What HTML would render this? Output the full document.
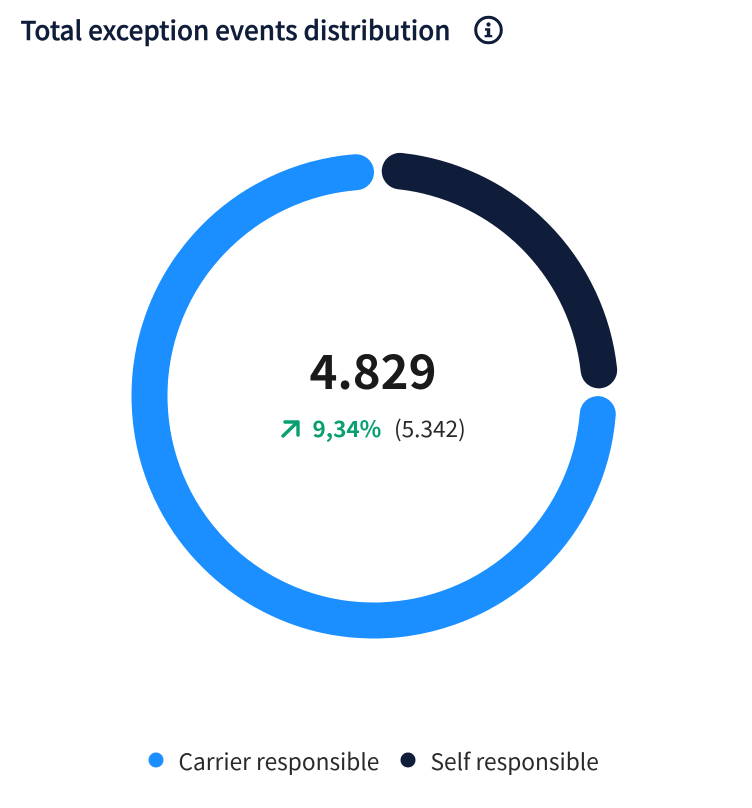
<!DOCTYPE html>
<html lang="en">
<head>
<meta charset="utf-8">
<title>Total exception events distribution</title>
<style>
  html, body { margin: 0; padding: 0; background: #fff; }
  body { width: 752px; height: 808px; overflow: hidden; }
  svg { display: block; }
  text { font-family: "Noto Sans CJK JP", "Liberation Sans", sans-serif; }
</style>
</head>
<body>
<svg id="chart" width="752" height="808" viewBox="0 0 752 808">
  <text x="20.500" y="40" font-size="26.080" font-weight="500" fill="#0f1d3a" stroke="#0f1d3a" stroke-width="0.400">Total exception events distribution</text>
  <g>
    <circle cx="488.500" cy="30" r="12.800" fill="none" stroke="#0f1d3a" stroke-width="3"></circle>
    <circle cx="488.500" cy="24.500" r="2.100" fill="#0f1d3a"></circle>
    <path d="M485 28.300h5.200v6.700h2v2.300h-7.600v-2.300h2.200v-4.400h-1.800z" fill="#0f1d3a"></path>
  </g>
  <g id="ring"></g>
  <text x="373" y="389" font-size="47.300" font-weight="700" fill="#1a1a1a" text-anchor="middle">4.829</text>
  <g fill="none" stroke="#0a9f72" stroke-width="3.400" stroke-linecap="round" stroke-linejoin="round">
    <path d="M283 436L297.500 422"></path>
    <path d="M285 422H298V435"></path>
  </g>
  <text x="312.500" y="437" font-size="22.500" font-weight="700" fill="#0a9f72">9,34%</text>
  <text x="394" y="437" font-size="22.600" font-weight="400" fill="#2a2a2a">(5.342)</text>
  <g id="legend"></g>
</svg>
<script>
const categories = ['Self responsible', 'Carrier responsible'];
const seriesValues = [1180, 3649];
const seriesColors = ['#0f1d3a', '#1b8fff'];
const legendOrder = ['Carrier responsible', 'Self responsible'];

const SVG_NS = 'http://www.w3.org/2000/svg';
const cx = 374, cy = 396, radius = 224.5, ringWidth = 36;
const startAngle = 1.03, gapAngle = 11.25;
const activeCategory = 'Self responsible';
const activeOffset = 2.1, activeRadius = 224.75, activeWidth = 36.5, activeGap = 10.46;
const legendDotX = { 'Carrier responsible': 156, 'Self responsible': 408 };
const legendY = 761;

function toPoint(deg, ox, oy, r) {
  const a = deg * Math.PI / 180;
  return [ox + r * Math.sin(a), oy - r * Math.cos(a)];
}

function arcPath(a0, a1, ox, oy, r) {
  const p0 = toPoint(a0, ox, oy, r), p1 = toPoint(a1, ox, oy, r);
  const large = (a1 - a0) > 180 ? 1 : 0;
  return 'M' + p0[0].toFixed(2) + ' ' + p0[1].toFixed(2) +
    'A' + r + ' ' + r + ' 0 ' + large + ' 1 ' + p1[0].toFixed(2) + ' ' + p1[1].toFixed(2);
}

const total = seriesValues.reduce(function (s, v) { return s + v; }, 0);
const ring = document.getElementById('ring');
let cursor = startAngle;
seriesValues.forEach(function (v, i) {
  const sweep = v / total * 360;
  const isActive = categories[i] === activeCategory;
  const mid = (cursor + sweep / 2) * Math.PI / 180;
  const ox = isActive ? cx + activeOffset * Math.sin(mid) : cx;
  const oy = isActive ? cy - activeOffset * Math.cos(mid) : cy;
  const r = isActive ? activeRadius : radius;
  const gap = isActive ? activeGap : gapAngle;
  const path = document.createElementNS(SVG_NS, 'path');
  path.setAttribute('d', arcPath(cursor + gap / 2, cursor + sweep - gap / 2, ox, oy, r));
  path.setAttribute('fill', 'none');
  path.setAttribute('stroke', seriesColors[i]);
  path.setAttribute('stroke-width', isActive ? activeWidth : ringWidth);
  path.setAttribute('stroke-linecap', 'round');
  
  
  ring.appendChild(path);
  cursor += sweep;
});

const legend = document.getElementById('legend');
legendOrder.forEach(function (label) {
  const idx = categories.indexOf(label);
  const x = legendDotX[label];
  const entry = document.createElementNS(SVG_NS, 'g');
  
  
  const dot = document.createElementNS(SVG_NS, 'circle');
  dot.setAttribute('cx', x);
  dot.setAttribute('cy', legendY - 1);
  dot.setAttribute('r', 7.500);
  dot.setAttribute('fill', seriesColors[idx]);
  
  
  const text = document.createElementNS(SVG_NS, 'text');
  text.setAttribute('x', x + 22.500);
  text.setAttribute('y', legendY + 9);
  text.setAttribute('font-size', '22.700');
  text.setAttribute('fill', '#2a2a2a');
  
  
  text.textContent = label;
  entry.appendChild(dot);
  entry.appendChild(text);
  legend.appendChild(entry);
});
</script>
</body>
</html>
